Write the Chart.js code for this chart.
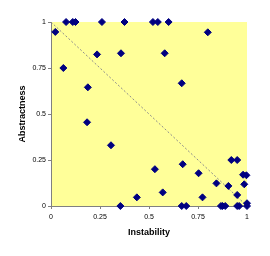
<!DOCTYPE html>
<html>
<head>
<meta charset="utf-8">
<script src="https://cdn.jsdelivr.net/npm/chart.js@4"></script>
<style>
  body { margin: 0; background: #fff; }
  canvas { display: block; }
</style>
</head>
<body>
<canvas id="myChart" width="270" height="256"></canvas>
<script>
// Instability (x) and Abstractness (y) of each package
const instability = [
    0.077, 0.111, 0.125, 0.26, 0.375, 0.52, 0.545, 0.6,
    0.022, 0.235, 0.063, 0.357, 0.58, 0.8, 0.188, 0.184, 0.667,
    0.306, 0.354, 0.438, 0.53, 0.672, 0.57, 0.753, 0.773, 0.844, 0.905,
    0.92, 0.95, 0.98, 0.997, 0.986, 0.95, 1.0,
    0.667, 0.69, 0.867, 0.875, 0.889, 0.95, 0.96, 1.0
];
const abstractness = [
    1, 1, 1, 1, 1, 1, 1, 1,
    0.946, 0.824, 0.75, 0.83, 0.83, 0.944, 0.645, 0.455, 0.667,
    0.33, 0, 0.047, 0.2, 0.227, 0.074, 0.178, 0.047, 0.123, 0.109,
    0.25, 0.25, 0.17, 0.167, 0.118, 0.06, 0.015,
    0, 0, 0, 0, 0, 0, 0, 0
];
// main sequence line
const mainSeqX = [0, 1];
const mainSeqY = [1, 0];
const tickValues = [0, 0.25, 0.5, 0.75, 1];

const plotBackground = {
    id: 'plotBackground',
    beforeDraw(chart) {
        const { ctx, chartArea: a } = chart;
        ctx.save();
        ctx.fillStyle = '#FFFF99';
        ctx.fillRect(a.left, a.top, a.right - a.left, a.bottom - a.top);
        ctx.restore();
    }
};

const tickFont = { family: 'Liberation Sans, Arial', size: 7 };
const titleFont = { family: 'Liberation Sans, Arial', size: 9, weight: 'bold' };

const ctx = document.getElementById('myChart').getContext('2d');
new Chart(ctx, {
    type: 'scatter',
    data: {
        datasets: [{
            label: 'Packages',
            data: instability.map((x, i) => ({ x: x, y: abstractness[i] })),
            pointStyle: 'rectRot',
            pointRadius: 3.5,
            borderWidth: 1,
            backgroundColor: '#000080',
            borderColor: '#000080',
            clip: false
        }, {
            label: 'Main sequence',
            data: mainSeqX.map((x, i) => ({ x: x, y: mainSeqY[i] })),
            showLine: true,
            pointRadius: 0,
            borderColor: '#8c8c8c',
            borderWidth: 1,
            borderDash: [2, 2]
        }]
    },
    options: {
        responsive: false,
        animation: false,
        layout: { padding: { left: 0, right: 23, top: 22, bottom: 0 } },
        plugins: { legend: { display: false }, tooltip: { enabled: false } },
        scales: {
            x: {
                type: 'linear',
                min: 0,
                max: 1,
                afterFit: s => { s.height = 50; },
                afterBuildTicks: s => { s.ticks = tickValues.map(v => ({ value: v })); },
                grid: { drawOnChartArea: false, tickLength: 3, color: '#808080' },
                border: { color: '#808080' },
                ticks: { color: '#000', font: tickFont, padding: 4, maxRotation: 0, callback: v => String(v) },
                title: { display: true, text: 'Instability', color: '#000', font: titleFont, padding: { bottom: 17.6 } }
            },
            y: {
                type: 'linear',
                min: 0,
                max: 1,
                afterFit: s => { s.width = 51; },
                afterBuildTicks: s => { s.ticks = tickValues.map(v => ({ value: v })); },
                grid: { drawOnChartArea: false, tickLength: 3, color: '#808080' },
                border: { color: '#808080' },
                ticks: { color: '#000', font: tickFont, padding: 2, callback: v => String(v) },
                title: { display: true, text: 'Abstractness', color: '#000', font: titleFont, padding: { top: 17.6 } }
            }
        }
    },
    plugins: [plotBackground]
});
</script>
</body>
</html>
